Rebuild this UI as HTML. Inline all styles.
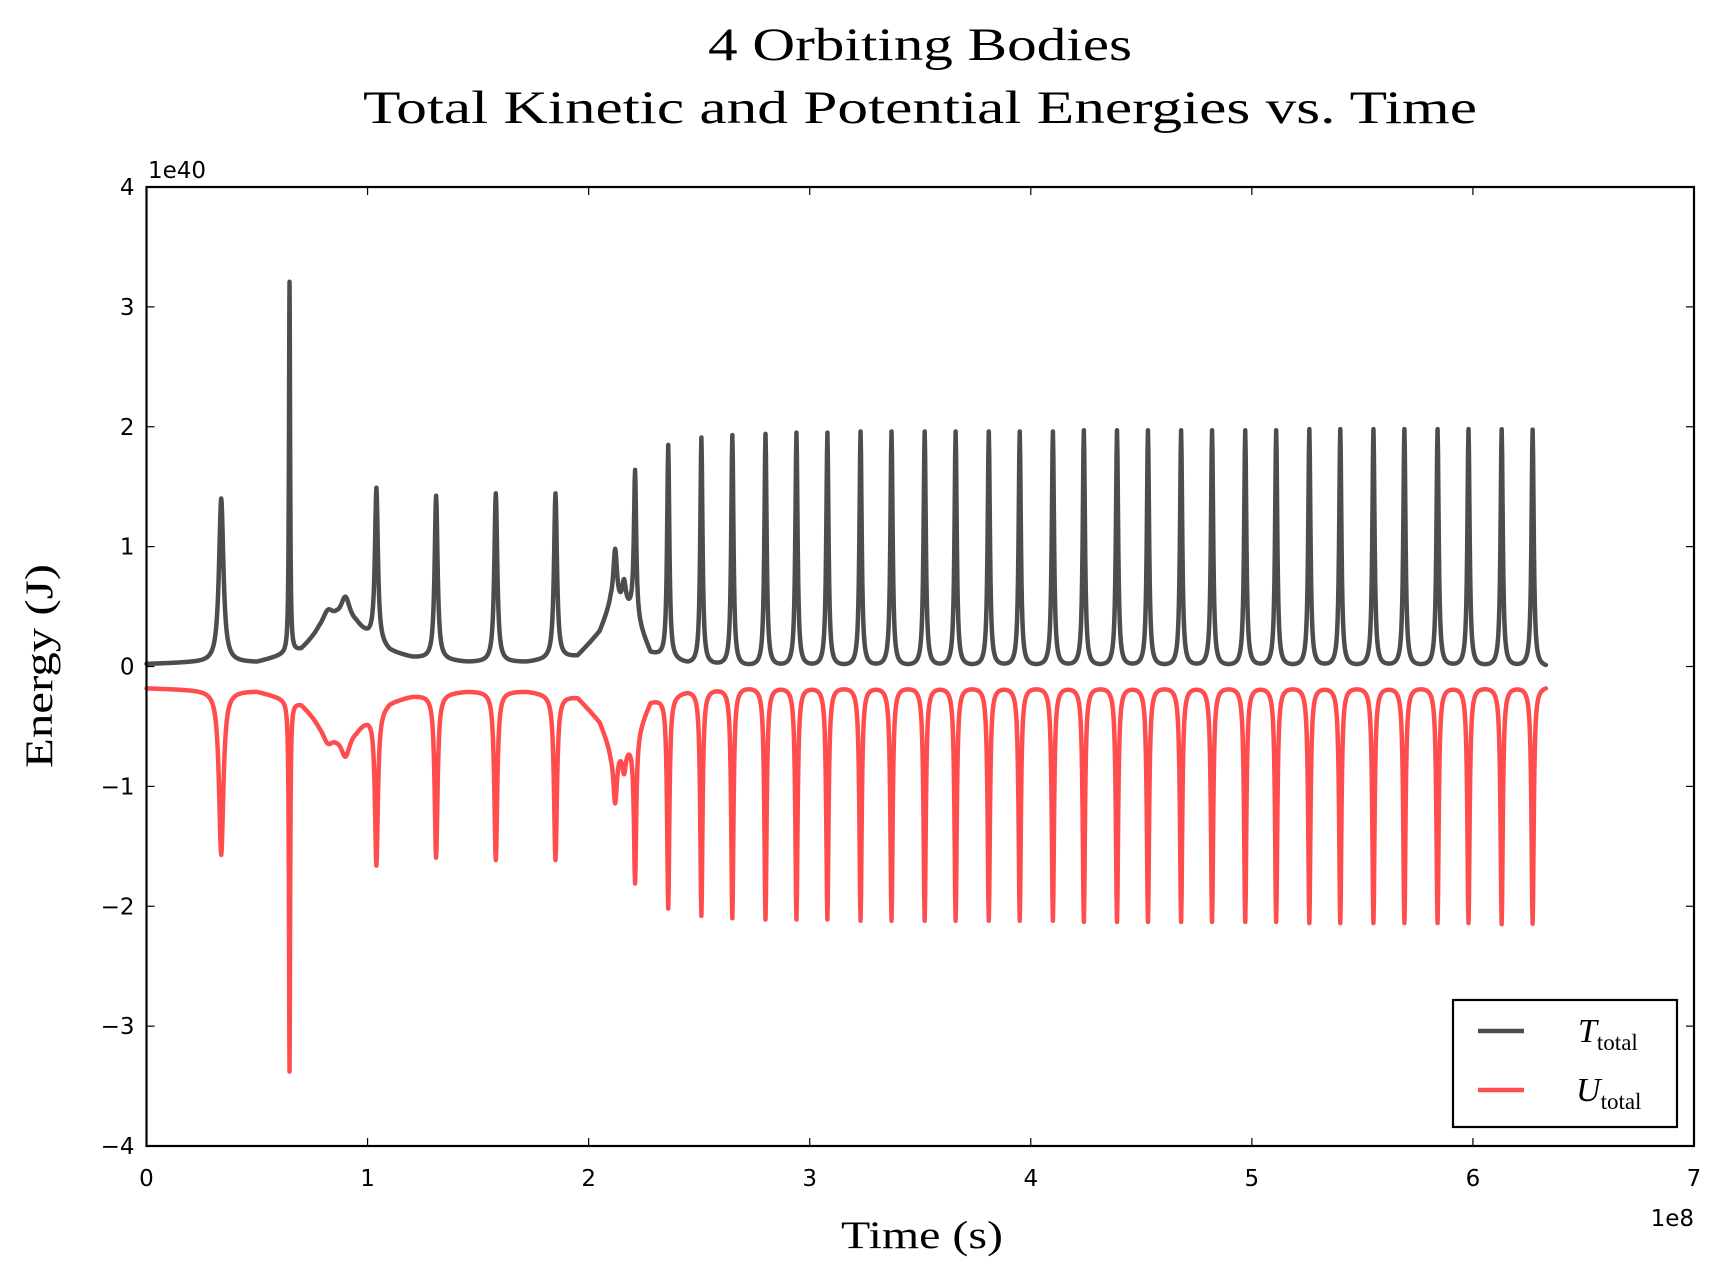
<!DOCTYPE html>
<html><head><meta charset="utf-8"><style>
body{margin:0;background:#fff;}
svg{display:block;}
text{font-family:"DejaVu Sans","Liberation Sans",sans-serif;}
.serif{font-family:"Liberation Serif",serif;}
</style></head><body>
<svg id="chart" width="1725" height="1280" viewBox="0 0 1725 1280" xmlns="http://www.w3.org/2000/svg">
<text class="serif" x="920" y="60" font-size="47" text-anchor="middle" textLength="424" lengthAdjust="spacingAndGlyphs">4 Orbiting Bodies</text>
<text class="serif" x="920" y="123" font-size="47" text-anchor="middle" textLength="1114" lengthAdjust="spacingAndGlyphs">Total Kinetic and Potential Energies vs.  Time</text>
<g id="plot"></g>
<rect x="146.5" y="187" width="1547.5" height="959" fill="none" stroke="#000" stroke-width="2.2"/>
<text x="148" y="178" font-size="23">1e40</text>
<text x="1694" y="1226" font-size="23" text-anchor="end">1e8</text>
<text class="serif" x="922" y="1248" font-size="39" text-anchor="middle" textLength="162" lengthAdjust="spacingAndGlyphs">Time (s)</text>
<text class="serif" x="52" y="666" font-size="39" text-anchor="middle" textLength="204" lengthAdjust="spacingAndGlyphs" transform="rotate(-90 52 666)">Energy (J)</text>
<g>
<rect x="1453" y="1000" width="224" height="127" fill="#fff" stroke="#000" stroke-width="2.2"/>
<line x1="1478" y1="1031" x2="1524" y2="1031" stroke="#4d4d4d" stroke-width="4.5"/>
<text class="serif" x="1578" y="1042" font-size="34" font-style="italic">T<tspan font-style="normal" font-size="23" dy="8">total</tspan></text>
<line x1="1478" y1="1090" x2="1524" y2="1090" stroke="#ff4d4d" stroke-width="4.5"/>
<text class="serif" x="1576" y="1101" font-size="34" font-style="italic">U<tspan font-style="normal" font-size="23" dy="8">total</tspan></text>
</g>
</svg>
<script>
const xTicks=[0,1,2,3,4,5,6,7];
const yTicks=[-4,-3,-2,-1,0,1,2,3,4];
const yTickLabels=["\u22124","\u22123","\u22122","\u22121","0","1","2","3","4"];
const peakTimes=[0.338,0.647,0.82,0.90,1.04,1.31,1.58,1.85,2.12,2.16,2.21,2.36,2.51,2.65,2.80,2.94,3.08,3.23,3.37,3.52,3.66,3.81,3.95,4.10,4.24,4.39,4.53,4.68,4.82,4.97,5.11,5.26,5.40,5.55,5.69,5.84,5.98,6.13,6.27];
const peakWidths=[0.012,0.003,0.03,0.025,0.008,0.008,0.008,0.008,0.01,0.01,0.006,0.006,0.006,0.006,0.006,0.006,0.006,0.006,0.006,0.006,0.006,0.006,0.006,0.006,0.006,0.006,0.006,0.006,0.006,0.006,0.006,0.006,0.006,0.006,0.006,0.006,0.006,0.006,0.006];
const tPeaks=[1.40,3.20,0.45,0.56,1.48,1.42,1.44,1.44,0.96,0.68,1.62,1.84,1.90,1.92,1.93,1.94,1.94,1.95,1.95,1.95,1.95,1.95,1.95,1.95,1.96,1.96,1.96,1.96,1.96,1.96,1.96,1.97,1.97,1.97,1.97,1.97,1.97,1.97,1.97];
const uPeaks=[-1.57,-3.37,-0.62,-0.73,-1.65,-1.59,-1.61,-1.61,-1.12,-0.85,-1.79,-2.01,-2.07,-2.09,-2.10,-2.10,-2.10,-2.11,-2.11,-2.11,-2.11,-2.11,-2.11,-2.11,-2.12,-2.12,-2.12,-2.12,-2.12,-2.12,-2.12,-2.13,-2.13,-2.13,-2.13,-2.13,-2.13,-2.14,-2.14];
const baseTimes=[0,0.2,0.5,0.6,0.7,0.78,0.86,0.95,1.0,1.1,1.2,1.45,1.72,1.95,2.05,2.1,2.2,2.28,2.45,2.7,6.33];
const tBase=[0.02,0.03,0.03,0.08,0.13,0.28,0.36,0.33,0.25,0.12,0.07,0.03,0.03,0.08,0.28,0.5,0.45,0.1,0.01,-0.01,-0.01];
const uBase=[-0.18,-0.19,-0.2,-0.25,-0.3,-0.45,-0.53,-0.5,-0.42,-0.29,-0.24,-0.2,-0.2,-0.25,-0.45,-0.67,-0.62,-0.28,-0.19,-0.16,-0.16];
const tEnd=6.33;

const L=146.5,R=1694,T=187,B=1146;
const X=t=>L+(t-0)/(7-0)*(R-L);
const Y=v=>B-(v+4)/8*(B-T);
const NS="http://www.w3.org/2000/svg";
const plot=document.getElementById('plot');
function mk(tag,attrs){const e=document.createElementNS(NS,tag);for(const k in attrs)e.setAttribute(k,attrs[k]);plot.appendChild(e);return e;}
xTicks.forEach((t,i)=>{
 const g=mk('line',{x1:X(t),x2:X(t),y1:B,y2:B-8,stroke:'#000','stroke-width':1.2});
 
 
 const g2=mk('line',{x1:X(t),x2:X(t),y1:T,y2:T+8,stroke:'#000','stroke-width':1.2});
 
 
 const tx=mk('text',{x:X(t),y:B+40,'font-size':23,'text-anchor':'middle'});tx.textContent=t;
 
 
});
yTicks.forEach((v,i)=>{
 const g=mk('line',{x1:L,x2:L+8,y1:Y(v),y2:Y(v),stroke:'#000','stroke-width':1.2});
 
 
 const g2=mk('line',{x1:R,x2:R-8,y1:Y(v),y2:Y(v),stroke:'#000','stroke-width':1.2});
 
 
 const tx=mk('text',{x:L-12,y:Y(v)+8,'font-size':23,'text-anchor':'end'});tx.textContent=yTickLabels[i];
 
 
});
function interp(t,xs,ys){if(t<=xs[0])return ys[0];for(let i=1;i<xs.length;i++){if(t<=xs[i]){const f=(t-xs[i-1])/(xs[i]-xs[i-1]);return ys[i-1]+f*(ys[i]-ys[i-1]);}}return ys[ys.length-1];}
function series(peaks,base){
 const amps=peakTimes.map((pt,i)=>peaks[i]-interp(pt,baseTimes,base));
 let ts=[];for(let t=0;t<=tEnd;t+=0.002)ts.push(t);
 peakTimes.forEach(p=>{ts.push(p);});
 ts.sort((a,b)=>a-b);
 return ts.map(t=>{let v=interp(t,baseTimes,base);peakTimes.forEach((p,i)=>{const w=peakWidths[i];const d=t-p;v+=amps[i]*w*w/(w*w+d*d);});return [X(t),Y(v)];});
}
function draw(pts,color,name){
 const p=mk('polyline',{points:pts.map(q=>q[0].toFixed(2)+','+q[1].toFixed(2)).join(' '),fill:'none',stroke:color,'stroke-width':4.5,'stroke-linejoin':'round','stroke-linecap':'round'});
 
 
}
draw(series(tPeaks,tBase),'#4d4d4d','kinetic-energy-line');
draw(series(uPeaks,uBase),'#ff4d4d','potential-energy-line');
</script>
</body></html>
